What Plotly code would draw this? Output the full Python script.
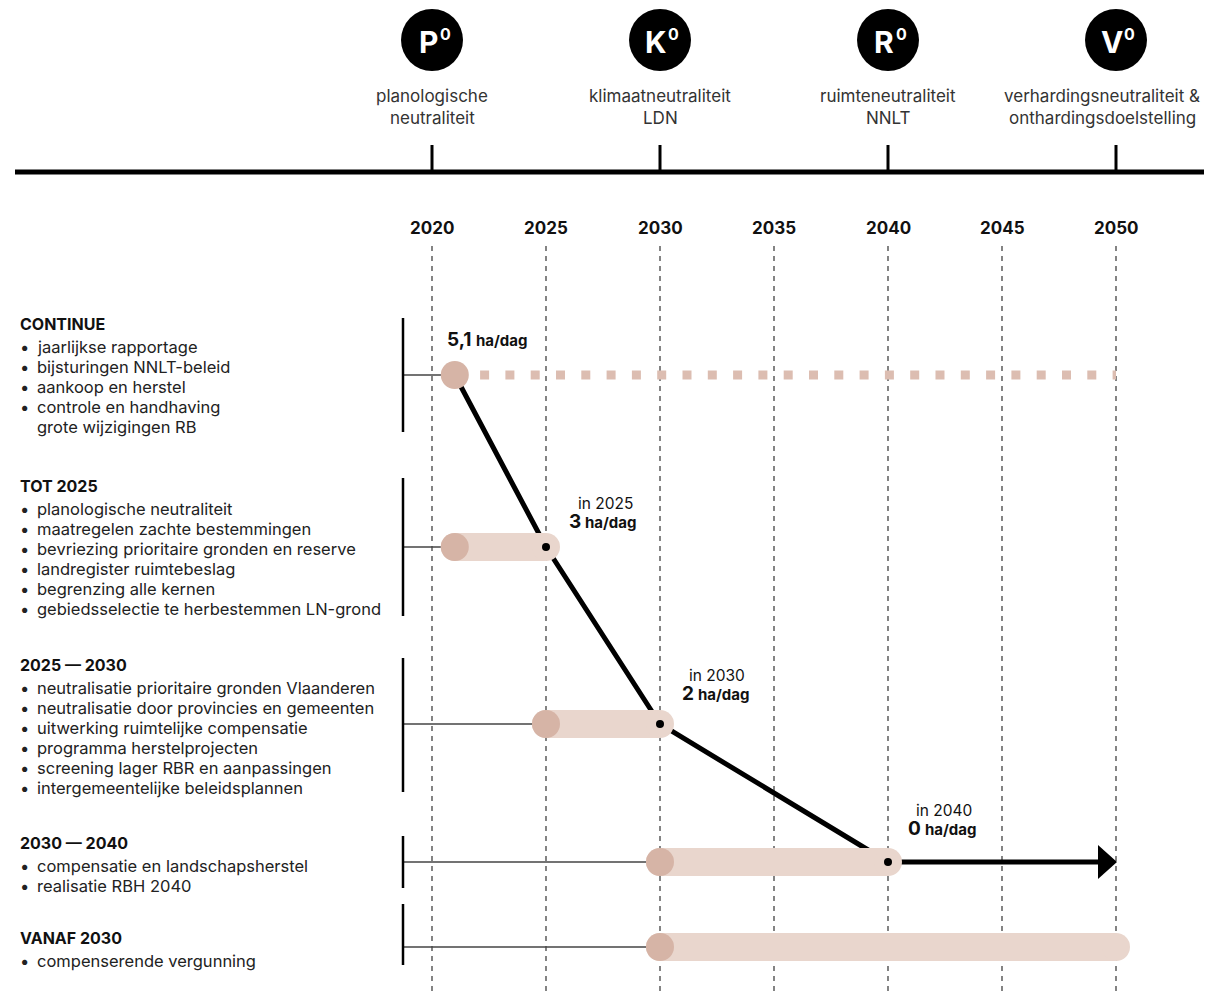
import plotly.graph_objects as go

# ---------------- data ----------------
milestone_years = [2020, 2030, 2040, 2050]
milestone_letters = ["P", "K", "R", "V"]
milestone_line1 = ["planologische", "klimaatneutraliteit", "ruimteneutraliteit", "verhardingsneutraliteit &"]
milestone_line2 = ["neutraliteit", "LDN", "NNLT", "onthardingsdoelstelling"]

tick_years = [2020, 2025, 2030, 2035, 2040, 2045, 2050]

block_titles = ["CONTINUE", "TOT 2025", "2025 — 2030", "2030 — 2040", "VANAF 2030"]
block_items = [
    ["jaarlijkse rapportage", "bijsturingen NNLT-beleid", "aankoop en herstel",
     "controle en handhaving", "grote wijzigingen RB"],
    ["planologische neutraliteit", "maatregelen zachte bestemmingen",
     "bevriezing prioritaire gronden en reserve", "landregister ruimtebeslag",
     "begrenzing alle kernen", "gebiedsselectie te herbestemmen LN-grond"],
    ["neutralisatie prioritaire gronden Vlaanderen", "neutralisatie door provincies en gemeenten",
     "uitwerking ruimtelijke compensatie", "programma herstelprojecten",
     "screening lager RBR en aanpassingen", "intergemeentelijke beleidsplannen"],
    ["compensatie en landschapsherstel", "realisatie RBH 2040"],
    ["compenserende vergunning"],
]
# item without bullet (continuation line)
no_bullet = {(0, 4)}

phase_start = [2021, 2021, 2025, 2030, 2030]
phase_end = [2050, 2025, 2030, 2040, 2050]

rate_years = [2021, 2025, 2030, 2040]
rate_values = ["5,1", "3", "2", "0"]
rate_unit = "ha/dag"
rate_intro = ["", "in 2025", "in 2030", "in 2040"]
arrow_end_year = 2050

# ---------------- layout constants (reference pixels) ----------------
W, H = 1212, 999
OFF = 8                          # page body margin
FW, FH = W - OFF, H - 2 * OFF    # figure size (no page overflow)
PX_PER_YEAR = 22.8
X0 = 2020 - (432 - OFF) / PX_PER_YEAR
X1 = X0 + FW / PX_PER_YEAR


def px(p):
    """reference pixel x -> paper x"""
    return (p - OFF) / FW


row_y = [375, 547, 724, 862, 947]
title_y = [324, 486, 665, 843, 938]
item_gap = 20
bracket = [(318, 432), (478, 616), (658, 792), (836, 888), (904, 965)]
BRACKET_X = X0 + (403 - OFF) / PX_PER_YEAR
split_dx = [18, 36, 35, 34]
main_dy = [-35, -25, -30, -33]
intro_dx = [0, 59, 57, 56]
label_x_shift = [0, 0, 0, -14]   # last milestone label kept inside the page

FONT = "Inter"
TXT = "#222222"
PILL = "#e9d6cd"
DARK = "#d6b4a6"
DOT = "#dcbdb1"

fig = go.Figure()
shapes = []
ann = []

# dashed year grid
for yr in tick_years:
    shapes.append(dict(type="line", xref="x", yref="y", x0=yr, x1=yr, y0=246, y1=H + 5,
                       line=dict(color="#333333", width=1.2, dash="5px,5px"), layer="below"))
    ann.append(dict(x=yr, y=228, xref="x", yref="y", text="<b>%d</b>" % yr, showarrow=False,
                    font=dict(family=FONT, size=17, color="#111111")))

# top timeline
shapes.append(dict(type="line", xref="paper", yref="y", x0=px(15), x1=1.0, y0=172, y1=172,
                   line=dict(color="black", width=5)))
for i, yr in enumerate(milestone_years):
    shapes.append(dict(type="line", xref="x", yref="y", x0=yr, x1=yr, y0=145, y1=172,
                       line=dict(color="black", width=3)))
    for k, (line, yy) in enumerate([(milestone_line1[i], 96), (milestone_line2[i], 118)]):
        ann.append(dict(x=yr, y=yy, xref="x", yref="y", text=line, showarrow=False,
                        xshift=label_x_shift[i],
                        font=dict(family=FONT, size=17, color="#333333")))
    ann.append(dict(x=yr, y=42, xref="x", yref="y", xshift=-4,
                    text="<b>%s</b>" % milestone_letters[i], showarrow=False,
                    font=dict(family=FONT, size=30, color="white")))
    ann.append(dict(x=yr, y=34, xref="x", yref="y", xshift=13,
                    text="<b>0</b>", showarrow=False,
                    font=dict(family=FONT, size=16, color="white")))
fig.add_trace(go.Scatter(x=milestone_years, y=[40] * len(milestone_years), mode="markers",
                         marker=dict(size=62, color="black"), hoverinfo="skip", showlegend=False))

# left text blocks and brackets
for b, title in enumerate(block_titles):
    ann.append(dict(x=px(18), y=title_y[b], xref="paper", yref="y", xanchor="left",
                    text="<b>%s</b>" % title, showarrow=False,
                    font=dict(family=FONT, size=16, color="#111111")))
    for j, item in enumerate(block_items[b]):
        yy = title_y[b] + 23 + j * item_gap
        if (b, j) not in no_bullet:
            ann.append(dict(x=px(18), y=yy, xref="paper", yref="y", xanchor="left",
                            text="•", showarrow=False, font=dict(family=FONT, size=16.5, color=TXT)))
        ann.append(dict(x=px(35), y=yy, xref="paper", yref="y", xanchor="left",
                        text=item, showarrow=False, font=dict(family=FONT, size=16.5, color=TXT)))
    shapes.append(dict(type="line", xref="x", yref="y", x0=BRACKET_X, x1=BRACKET_X,
                       y0=bracket[b][0], y1=bracket[b][1], line=dict(color="black", width=2.5)))
    shapes.append(dict(type="line", xref="x", yref="y", x0=BRACKET_X, x1=phase_start[b],
                       y0=row_y[b], y1=row_y[b], line=dict(color="#444444", width=1.5), layer="below"))

# rate line (black)
rate_y = [row_y[i] for i in range(len(rate_years))]
fig.add_trace(go.Scatter(x=rate_years, y=rate_y, mode="lines", line=dict(color="black", width=5),
                         hoverinfo="skip", showlegend=False))
# arrow to 2050
fig.add_trace(go.Scatter(x=[rate_years[-1], arrow_end_year - 0.5], y=[rate_y[-1], rate_y[-1]],
                         mode="lines", line=dict(color="black", width=5),
                         hoverinfo="skip", showlegend=False))
shapes.append(dict(type="path", xref="x", yref="y", xsizemode="pixel", ysizemode="pixel",
                   xanchor=arrow_end_year, yanchor=rate_y[-1],
                   path="M -18,-17 L 1,0 L -18,17 Z", fillcolor="black", line=dict(width=0)))

# row 0: dotted continuous line
fig.add_trace(go.Scatter(x=[phase_start[0], phase_end[0]], y=[row_y[0], row_y[0]], mode="lines",
                         line=dict(color=DOT, width=9, dash="9px,16.3px"),
                         hoverinfo="skip", showlegend=False))

# pills for phases
for b in range(1, len(phase_start)):
    fig.add_trace(go.Scatter(x=[phase_start[b], phase_end[b]], y=[row_y[b], row_y[b]],
                             mode="lines+markers", line=dict(color=PILL, width=28),
                             marker=dict(size=28, color=PILL),
                             hoverinfo="skip", showlegend=False))

# start circles
fig.add_trace(go.Scatter(x=phase_start, y=row_y, mode="markers",
                         marker=dict(size=28, color=DARK), hoverinfo="skip", showlegend=False))

# black dots
fig.add_trace(go.Scatter(x=rate_years[1:], y=rate_y[1:], mode="markers",
                         marker=dict(size=8, color="black"), hoverinfo="skip", showlegend=False))

# rate labels
for i, yr in enumerate(rate_years):
    yy = rate_y[i] + main_dy[i]
    ann.append(dict(x=yr, y=yy, xref="x", yref="y", text="<b>%s</b>" % rate_values[i],
                    showarrow=False, xanchor="right", xshift=split_dx[i] + 1, yshift=1,
                    font=dict(family=FONT, size=19, color="#111111")))
    ann.append(dict(x=yr, y=yy, xref="x", yref="y", text="<b>%s</b>" % rate_unit,
                    showarrow=False, xanchor="left", xshift=split_dx[i] + 1,
                    font=dict(family=FONT, size=15, color="#111111")))
    if rate_intro[i]:
        ann.append(dict(x=yr, y=yy - 19, xref="x", yref="y", text=rate_intro[i],
                        showarrow=False, xshift=intro_dx[i],
                        font=dict(family=FONT, size=15.5, color="#111111")))

fig.update_layout(
    width=FW, height=FH, margin=dict(l=0, r=0, t=0, b=0),
    paper_bgcolor="white", plot_bgcolor="white",
    xaxis=dict(range=[X0, X1], visible=False, fixedrange=True),
    yaxis=dict(range=[OFF + FH, OFF], visible=False, fixedrange=True),
    shapes=shapes, annotations=ann, showlegend=False,
)
fig.write_html("out.html")
